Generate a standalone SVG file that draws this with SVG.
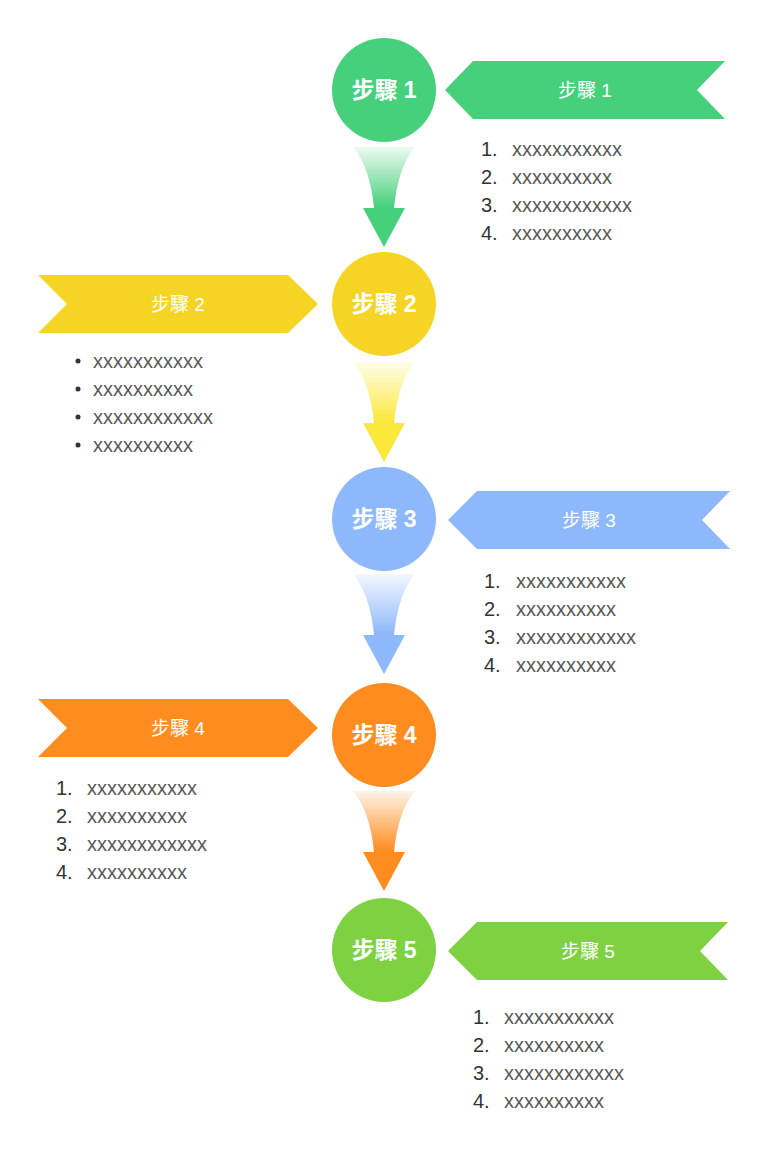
<svg xmlns="http://www.w3.org/2000/svg" width="767" height="1153" viewBox="0 0 767 1153">
<style>
.ct{font-family:"Liberation Sans","Noto Sans CJK SC",sans-serif;font-size:23px;font-weight:bold;fill:#fff;text-anchor:middle;dominant-baseline:central}
.bt{font-family:"Liberation Sans","Noto Sans CJK SC",sans-serif;font-size:19px;fill:#fff;text-anchor:middle;dominant-baseline:central}
.li{font-family:"Liberation Sans",sans-serif;font-size:20px;fill:#595959;dominant-baseline:central}
.n{fill:#333}
</style>
<defs>
<linearGradient id="g1" x1="0" y1="0" x2="0" y2="1"><stop offset="0" stop-color="#46D07C" stop-opacity="0.1"/><stop offset="0.6" stop-color="#46D07C"/></linearGradient>
<linearGradient id="g2" x1="0" y1="0" x2="0" y2="1"><stop offset="0" stop-color="#FCE83A" stop-opacity="0.1"/><stop offset="0.6" stop-color="#FCE83A"/></linearGradient>
<linearGradient id="g3" x1="0" y1="0" x2="0" y2="1"><stop offset="0" stop-color="#8EB8FC" stop-opacity="0.1"/><stop offset="0.6" stop-color="#8EB8FC"/></linearGradient>
<linearGradient id="g4" x1="0" y1="0" x2="0" y2="1"><stop offset="0" stop-color="#FF8C1E" stop-opacity="0.1"/><stop offset="0.6" stop-color="#FF8C1E"/></linearGradient>
<path id="arr" d="M-31,0 L31,0 Q14,20 10,61 L21,61 L0,100 L-21,61 L-10,61 Q-14,20 -31,0 Z"/>
</defs>
<g id="connectors">
<use href="#arr" x="384" y="147" fill="url(#g1)"/>
<use href="#arr" x="384" y="362" fill="url(#g2)"/>
<use href="#arr" x="384" y="574" fill="url(#g3)"/>
<use href="#arr" x="384" y="791" fill="url(#g4)"/>
</g>
<g id="step1">
<circle cx="384" cy="90" r="52" fill="#46D07C"/><text class="ct" x="384" y="90">步驟 1</text>
<polygon points="445,90 473,61 725,61 697,90 725,119 473,119" fill="#46D07C"/><text class="bt" x="585" y="90">步驟 1</text>
<g class="li"><text class="n" x="481" y="149">1.</text><text x="512" y="149">xxxxxxxxxxx</text>
<text class="n" x="481" y="177">2.</text><text x="512" y="177">xxxxxxxxxx</text>
<text class="n" x="481" y="205">3.</text><text x="512" y="205">xxxxxxxxxxxx</text>
<text class="n" x="481" y="233">4.</text><text x="512" y="233">xxxxxxxxxx</text></g>
</g>
<g id="step2">
<circle cx="384" cy="304" r="52" fill="#F5D423"/><text class="ct" x="384" y="304">步驟 2</text>
<polygon points="38,275 288,275 318,304 288,333 38,333 67,304" fill="#F5D423"/><text class="bt" x="178" y="304">步驟 2</text>
<g class="li"><circle class="n" cx="78" cy="361" r="2.5"/><text x="93" y="361">xxxxxxxxxxx</text>
<circle class="n" cx="78" cy="389" r="2.5"/><text x="93" y="389">xxxxxxxxxx</text>
<circle class="n" cx="78" cy="417" r="2.5"/><text x="93" y="417">xxxxxxxxxxxx</text>
<circle class="n" cx="78" cy="445" r="2.5"/><text x="93" y="445">xxxxxxxxxx</text></g>
</g>
<g id="step3">
<circle cx="384" cy="519" r="52" fill="#8EB8FC"/><text class="ct" x="384" y="519">步驟 3</text>
<polygon points="448,520 477,491 730,491 702,520 730,549 477,549" fill="#8EB8FC"/><text class="bt" x="589" y="520">步驟 3</text>
<g class="li"><text class="n" x="484" y="581">1.</text><text x="516" y="581">xxxxxxxxxxx</text>
<text class="n" x="484" y="609">2.</text><text x="516" y="609">xxxxxxxxxx</text>
<text class="n" x="484" y="637">3.</text><text x="516" y="637">xxxxxxxxxxxx</text>
<text class="n" x="484" y="665">4.</text><text x="516" y="665">xxxxxxxxxx</text></g>
</g>
<g id="step4">
<circle cx="384" cy="735" r="52" fill="#FF8C1E"/><text class="ct" x="384" y="735">步驟 4</text>
<polygon points="38,699 288,699 318,728 288,757 38,757 67,728" fill="#FF8C1E"/><text class="bt" x="178" y="728">步驟 4</text>
<g class="li"><text class="n" x="56" y="788">1.</text><text x="87" y="788">xxxxxxxxxxx</text>
<text class="n" x="56" y="816">2.</text><text x="87" y="816">xxxxxxxxxx</text>
<text class="n" x="56" y="844">3.</text><text x="87" y="844">xxxxxxxxxxxx</text>
<text class="n" x="56" y="872">4.</text><text x="87" y="872">xxxxxxxxxx</text></g>
</g>
<g id="step5">
<circle cx="384" cy="950" r="52" fill="#7ED242"/><text class="ct" x="384" y="950">步驟 5</text>
<polygon points="448,951 477,922 728,922 700,951 728,980 477,980" fill="#7ED242"/><text class="bt" x="588" y="951">步驟 5</text>
<g class="li"><text class="n" x="473" y="1017">1.</text><text x="504" y="1017">xxxxxxxxxxx</text>
<text class="n" x="473" y="1045">2.</text><text x="504" y="1045">xxxxxxxxxx</text>
<text class="n" x="473" y="1073">3.</text><text x="504" y="1073">xxxxxxxxxxxx</text>
<text class="n" x="473" y="1101">4.</text><text x="504" y="1101">xxxxxxxxxx</text></g>
</g>
</svg>
